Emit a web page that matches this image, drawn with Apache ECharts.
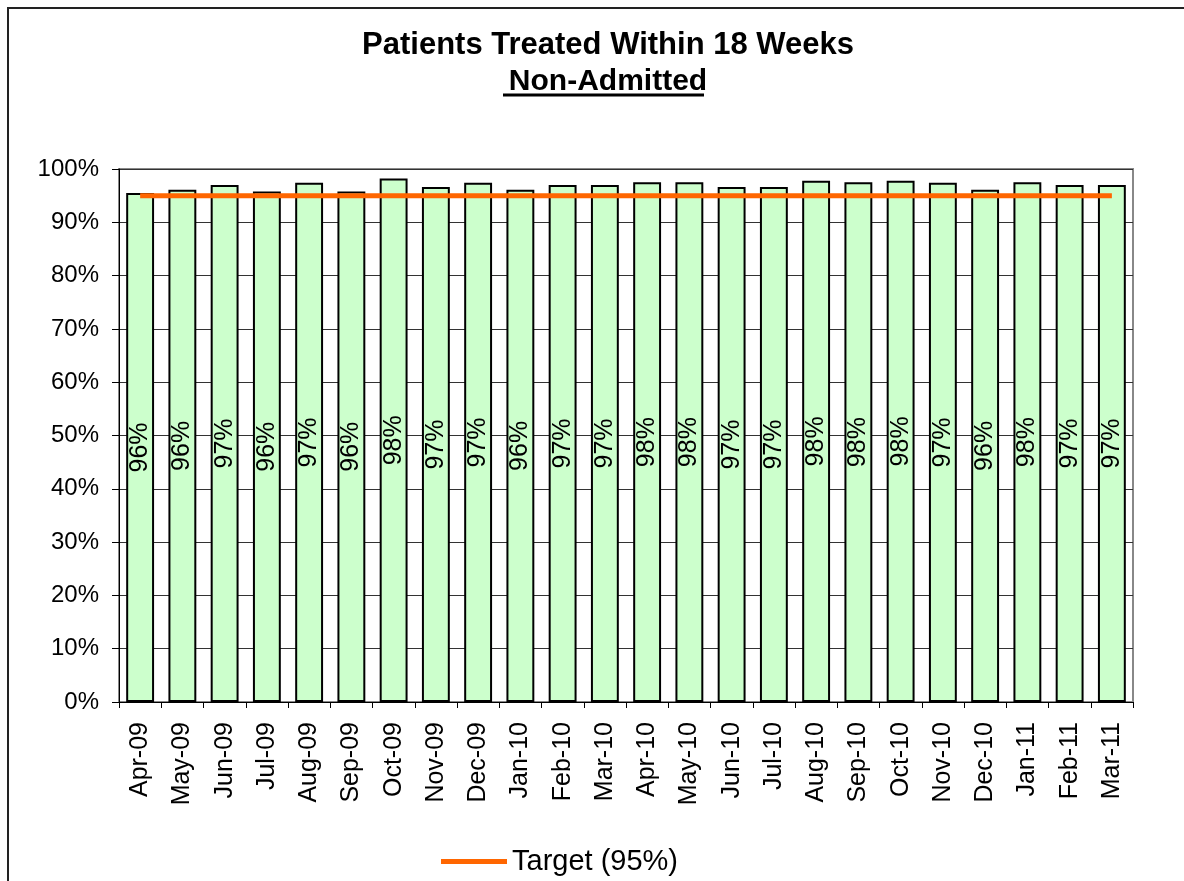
<!DOCTYPE html>
<html>
<head>
<meta charset="utf-8">
<script src="https://cdn.jsdelivr.net/npm/echarts@6/dist/echarts.min.js"></script>
<style>
html,body{margin:0;padding:0;background:#fff;}
#chart{width:1184px;height:881px;}
</style>
</head>
<body>
<div id="chart"></div>
<script>
const categories = ['Apr-09','May-09','Jun-09','Jul-09','Aug-09','Sep-09','Oct-09','Nov-09','Dec-09','Jan-10','Feb-10','Mar-10','Apr-10','May-10','Jun-10','Jul-10','Aug-10','Sep-10','Oct-10','Nov-10','Dec-10','Jan-11','Feb-11','Mar-11'];
const treatedPct = [95.5,96.1,97.0,95.8,97.4,95.8,98.2,96.6,97.4,96.1,97.0,97.0,97.5,97.5,96.6,96.6,97.8,97.5,97.8,97.4,96.1,97.5,97.0,97.0];
const targetPct = [95,95,95,95,95,95,95,95,95,95,95,95,95,95,95,95,95,95,95,95,95,95,95,95];
const yTicks = [0,10,20,30,40,50,60,70,80,90,100];

const FONT = 'Liberation Sans, Arial, sans-serif';
const chart = echarts.init(document.getElementById('chart'));
chart.setOption({
  animation: false,
  backgroundColor: '#fff',
  title: {
    text: 'Patients Treated Within 18 Weeks',
    subtext: 'Non-Admitted',
    left: 603, textAlign: 'center', top: 25,
    itemGap: 6,
    textStyle: {fontFamily: FONT, fontWeight: 'bold', fontSize: 31, color: '#000'},
    subtextStyle: {fontFamily: FONT, fontWeight: 'bold', fontSize: 30, color: '#000'}
  },
  graphic: [
    {type: 'rect', shape: {x: 8, y: 8, width: 1250, height: 950}, style: {fill: 'none', stroke: '#222', lineWidth: 2}, silent: true},
    {type: 'line', shape: {x1: 503, y1: 95, x2: 704, y2: 95}, style: {stroke: '#000', lineWidth: 3}, silent: true}
  ],
  legend: {
    data: [{name: 'Target (95%)', icon: 'rect'}],
    left: 436, top: 842,
    itemWidth: 66, itemHeight: 5, itemGap: 6,
    textStyle: {fontFamily: FONT, fontSize: 29, color: '#000'}
  },
  grid: {left: 119, right: 51, top: 169, bottom: 179, show: true, borderColor: '#888', borderWidth: 2, backgroundColor: 'transparent'},
  xAxis: {
    type: 'category', data: categories,
    axisLine: {lineStyle: {color: '#000', width: 1}},
    axisTick: {show: true, length: 6, lineStyle: {color: '#000'}},
    axisLabel: {rotate: 90, fontFamily: FONT, fontSize: 25, color: '#000', margin: 20, interval: 0}
  },
  yAxis: {
    type: 'value', min: 0, max: 100, interval: 10,
    axisLine: {show: true, lineStyle: {color: '#000', width: 1}},
    axisTick: {show: true, length: 7, inside: false, lineStyle: {color: '#000'}},
    axisLabel: {fontFamily: FONT, fontSize: 24, color: '#000', margin: 20, formatter: v => v + '%'},
    splitLine: {show: true, lineStyle: {color: '#333', width: 1}}
  },
  series: [
    {
      name: 'Treated', type: 'bar', data: treatedPct,
      barCategoryGap: '34%',
      itemStyle: {color: '#CCFFCC', borderColor: '#000', borderWidth: 2},
      label: {show: true, position: 'inside', rotate: 90, fontFamily: FONT, fontSize: 25, color: '#000',
              formatter: p => Math.round(p.value) + '%'},
      z: 2
    },
    {
      name: 'Target (95%)', type: 'line', data: targetPct,
      symbol: 'none', showSymbol: false,
      lineStyle: {color: '#FF6600', width: 5},
      itemStyle: {color: '#FF6600'},
      z: 3
    }
  ]
});
</script>
</body>
</html>
